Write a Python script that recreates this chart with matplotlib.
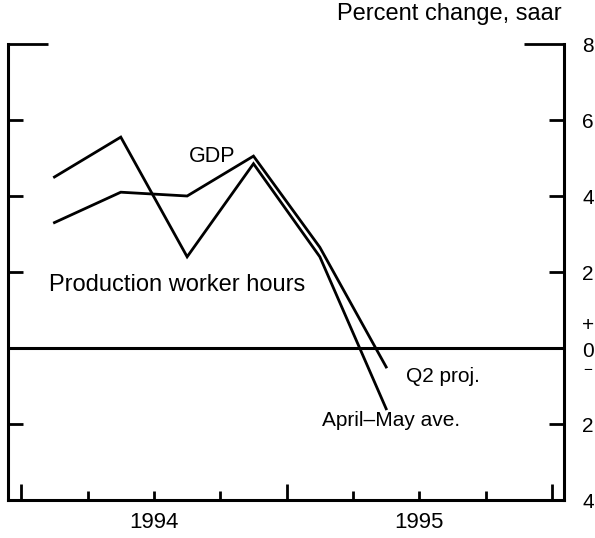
import matplotlib

matplotlib.use("Agg")
import numpy as np
from matplotlib import pyplot as plt
from matplotlib import transforms
from matplotlib.ticker import FixedFormatter, FixedLocator

plt.rcParams["font.family"] = ["Liberation Sans", "DejaVu Sans"]

# quarterly data, percent change at seasonally adjusted annual rate
QUARTERS = ["1994Q1", "1994Q2", "1994Q3", "1994Q4", "1995Q1", "1995Q2"]
GDP = [3.3, 4.1, 4.0, 5.05, 2.65, -0.5]
HOURS = [4.5, 5.55, 2.4, 4.85, 2.4, -1.6]

YEARS = ["1994", "1995"]
Y_MAJOR = [6, 4, 2, 0, -2, -4]
Y_MAJOR_LABELS = ["6", "4", "2", "", "2", "4"]
Y_TOP = [8]


def plot_gdp_hours():
    """Draw GDP vs production worker hours and save it to out.png."""
    fig = plt.figure(figsize=(5.95, 5.38), dpi=100)
    ax = fig.add_axes([8 / 595, 38 / 538, 556 / 595, 456 / 538])

    x = np.arange(len(QUARTERS)) + 0.5
    ax.plot(x, GDP, color="black", lw=2.0, solid_joinstyle="miter")
    ax.plot(x, HOURS, color="black", lw=2.0, solid_joinstyle="miter")
    ax.axhline(0, color="black", lw=2.2)

    ax.set_xlim(-0.2, 8.18)
    ax.set_ylim(-4, 8)

    ax.spines["top"].set_visible(False)
    for side in ["left", "right", "bottom"]:
        ax.spines[side].set_linewidth(2.2)

    # x axis: long ticks on year boundaries, short ones on quarters
    n_years = len(YEARS)
    ax.xaxis.set_major_locator(FixedLocator(list(range(0, 4 * n_years + 1, 4))))
    minor_x = [q for q in range(1, 4 * n_years) if q % 4 != 0]
    ax.xaxis.set_minor_locator(FixedLocator(minor_x))
    minor_lbl = []
    for q in minor_x:
        minor_lbl.append(YEARS[q // 4] if q % 4 == 2 else "")
    ax.xaxis.set_minor_formatter(FixedFormatter(minor_lbl))
    ax.tick_params(axis="x", which="major", direction="in", length=11.5,
                   width=2, labelbottom=False)
    ax.tick_params(axis="x", which="minor", direction="in", length=6.5,
                   width=2, labelbottom=True, labelsize=16, pad=9)

    # y axis: labels on the right only, long tick at the top
    ax.yaxis.set_major_locator(FixedLocator(Y_MAJOR))
    ax.yaxis.set_major_formatter(FixedFormatter(Y_MAJOR_LABELS))
    ax.yaxis.set_minor_locator(FixedLocator(Y_TOP))
    ax.yaxis.set_minor_formatter(FixedFormatter([str(v) for v in Y_TOP]))
    ax.tick_params(axis="y", which="major", direction="in", length=11,
                   width=2, left=True, right=True, labelleft=False,
                   labelright=True, labelsize=15, pad=13)
    ax.tick_params(axis="y", which="minor", direction="in", length=29,
                   width=2, left=True, right=True, labelleft=False,
                   labelright=True, labelsize=15, pad=13)

    # sign marker around zero
    trans = transforms.blended_transform_factory(ax.transAxes, ax.transData)
    ax.text(1.043, 0.6, "+", transform=trans, ha="center", va="center",
            fontsize=15, clip_on=False)
    ax.text(1.043, -0.08, "0", transform=trans, ha="center", va="center",
            fontsize=15, clip_on=False)
    ax.text(1.043, -0.4, "\u2212", transform=trans, ha="center",
            va="top", fontsize=11, clip_on=False)

    ax.text(2.88, 5.03, "GDP", ha="center", va="center", fontsize=15.5)
    ax.text(0.42, 1.66, "Production worker hours", ha="left", va="center",
            fontsize=17)
    ax.text(5.8, -0.74, "Q2 proj.", ha="left", va="center", fontsize=15)
    ax.text(4.53, -1.92, "April\u2013May ave.", ha="left", va="center",
            fontsize=15)

    fig.text(562 / 595, 1 - 14 / 538, "Percent change, saar", ha="right",
             va="center", fontsize=17)

    fig.savefig("out.png", dpi=100)


plot_gdp_hours()
